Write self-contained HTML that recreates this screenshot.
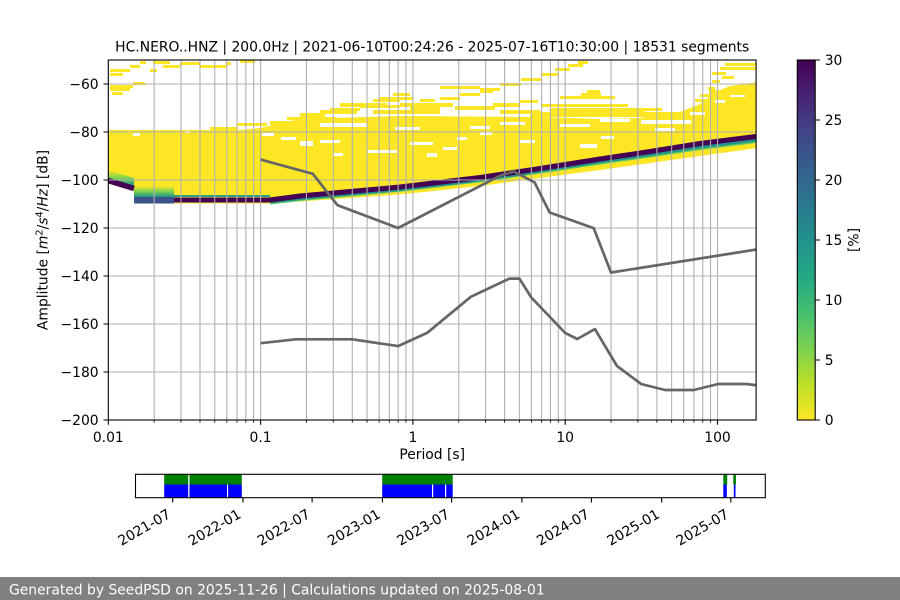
<!DOCTYPE html>
<html><head><meta charset="utf-8"><style>
html,body{margin:0;padding:0;background:#fff;}
svg{display:block;}
text{font-family:"DejaVu Sans","Liberation Sans",sans-serif;font-size:13.89px;fill:#000;}
</style></head><body>
<svg width="900" height="600" viewBox="0 0 900 600" xmlns="http://www.w3.org/2000/svg">
<defs>
<clipPath id="ax"><rect x="108.3" y="60" width="647.8" height="360"/></clipPath>
<linearGradient id="cb" x1="0" y1="1" x2="0" y2="0">
<stop offset="0" stop-color="#fde725"/><stop offset="0.1" stop-color="#bddf26"/><stop offset="0.2" stop-color="#7ad151"/><stop offset="0.3" stop-color="#44bf70"/><stop offset="0.4" stop-color="#22a884"/><stop offset="0.5" stop-color="#21918c"/><stop offset="0.6" stop-color="#2a788e"/><stop offset="0.7" stop-color="#355f8d"/><stop offset="0.8" stop-color="#414487"/><stop offset="0.9" stop-color="#482475"/><stop offset="1" stop-color="#440154"/>
</linearGradient>
<linearGradient id="lg" x1="0" y1="0" x2="0" y2="1">
<stop offset="0" stop-color="#fde725"/><stop offset="0.5" stop-color="#7ad151"/><stop offset="1" stop-color="#21918c"/>
</linearGradient>
</defs>
<rect width="900" height="600" fill="#fff"/>

<!-- heatmap -->
<g clip-path="url(#ax)">
<path fill="#fde725" d="M108,130 L240,130 L260,128 L300,119 L400,116 L540,117 L600,119 L640,118 L680,112 L700,104 L715,92 L730,86 L757,82 L757,148 L700,156 L650,163 L600,170 L540,178 L480,186 L400,194.5 L300,201.5 L270,203.5 L134,203.5 L134,191 L108,183.5 Z"/>
<g fill="#fde725">
<rect x="140" y="61" width="6" height="3"/><rect x="153" y="61" width="17" height="3"/><rect x="180" y="62" width="20" height="3"/><rect x="226" y="62" width="5" height="3"/><rect x="240" y="60" width="15" height="3"/>
<rect x="130" y="65" width="10" height="3"/><rect x="163" y="65" width="17" height="3"/><rect x="200" y="65" width="27" height="3"/>
<rect x="110" y="69" width="20" height="3"/><rect x="150" y="69" width="7" height="3"/><rect x="110" y="73" width="13" height="3"/>
<rect x="133" y="82" width="12" height="3"/><rect x="110" y="85" width="23" height="3"/><rect x="110" y="88" width="20" height="3"/><rect x="112" y="92" width="11" height="3"/>
<rect x="210" y="127" width="28" height="3"/><rect x="237" y="123" width="30" height="3"/><rect x="270" y="121" width="63" height="4"/><rect x="287" y="117" width="50" height="3"/><rect x="340" y="118" width="60" height="3"/><rect x="330" y="108" width="30" height="3"/><rect x="360" y="105" width="40" height="3"/><rect x="373" y="99" width="27" height="3"/>
<rect x="480" y="90" width="13" height="3"/><rect x="460" y="93" width="20" height="3"/><rect x="393" y="93" width="17" height="3"/><rect x="380" y="97" width="33" height="3"/><rect x="440" y="97" width="20" height="3"/>
<rect x="340" y="103" width="47" height="4"/><rect x="400" y="103" width="53" height="4"/><rect x="493" y="103" width="27" height="4"/><rect x="320" y="110" width="37" height="4"/><rect x="373" y="110" width="67" height="4"/><rect x="500" y="110" width="40" height="4"/>
<rect x="300" y="113" width="25" height="4"/><rect x="420" y="99" width="15" height="3"/><rect x="455" y="106" width="40" height="4"/><rect x="520" y="100" width="18" height="3"/><rect x="410" y="107" width="30" height="3"/>
<rect x="440" y="86" width="40" height="3"/><rect x="480" y="88" width="20" height="3"/><rect x="500" y="83" width="21" height="3"/><rect x="521" y="78" width="20" height="3"/><rect x="541" y="73" width="17" height="3"/><rect x="555" y="68" width="15" height="3"/><rect x="568" y="64" width="15" height="3"/><rect x="578" y="61" width="10" height="3"/>
<rect x="587" y="90" width="13" height="3"/><rect x="581" y="93" width="20" height="3"/><rect x="560" y="96" width="55" height="3"/><rect x="541" y="104" width="87" height="3"/><rect x="550" y="108" width="95" height="4"/><rect x="615" y="108" width="47" height="3"/><rect x="530" y="112" width="160" height="5"/>
<rect x="725" y="63" width="33" height="3"/><rect x="720" y="67" width="36" height="3"/><rect x="712" y="72" width="14" height="3"/><rect x="722" y="76" width="12" height="3"/><rect x="712" y="80" width="8" height="3"/><rect x="700" y="94" width="12" height="3"/><rect x="708" y="87" width="7" height="3"/><rect x="709" y="90" width="13" height="4"/><rect x="695" y="99" width="10" height="3"/>
</g>
<g fill="#fff">
<rect x="133" y="133" width="7" height="3"/><rect x="185" y="131" width="5" height="2"/><rect x="262" y="133" width="12" height="3"/><rect x="281" y="137" width="15" height="3"/><rect x="300" y="141" width="13" height="5"/><rect x="320" y="140" width="20" height="3"/><rect x="333" y="153" width="10" height="3"/><rect x="367" y="150" width="30" height="3"/><rect x="410" y="142" width="23" height="3"/><rect x="427" y="153" width="10" height="4"/><rect x="443" y="147" width="14" height="3"/><rect x="457" y="137" width="10" height="3"/><rect x="320" y="123" width="47" height="4"/><rect x="395" y="127" width="25" height="3"/><rect x="470" y="126" width="20" height="3"/><rect x="500" y="122" width="25" height="3"/><rect x="560" y="124" width="30" height="3"/><rect x="580" y="144" width="17" height="4"/><rect x="601" y="136" width="13" height="3"/><rect x="641" y="120" width="50" height="4"/><rect x="655" y="128" width="20" height="3"/><rect x="600" y="119" width="30" height="3"/><rect x="520" y="140" width="15" height="3"/><rect x="480" y="132" width="12" height="3"/><rect x="690" y="112" width="15" height="3"/><rect x="715" y="100" width="10" height="3"/><rect x="730" y="95" width="15" height="2"/>
</g>
<path fill="url(#lg)" d="M108,170 L134,178 L134,186 L108,178 Z"/>
<rect x="134" y="186" width="40" height="11" fill="url(#lg)"/>
<rect x="134" y="197" width="40" height="6.5" fill="#3b528b"/>
<rect x="174" y="195" width="96" height="2" fill="#2a9d8c"/>
<path fill="none" stroke="#440154" stroke-width="5.5" d="M108,180.5 L134,188.5"/>
<path fill="none" stroke="#5ec962" stroke-width="7" d="M270,201 L300,197.5 L400,188.3 L480,178.8 L540,170 L600,161 L650,154 L700,146.5 L760,139"/>
<path fill="none" stroke="#21918c" stroke-width="6" d="M270,200.5 L300,197 L400,188 L480,178.5 L540,169.5 L600,160.3 L650,153 L700,145.5 L760,138"/>
<path fill="none" stroke="#440154" stroke-width="5" d="M174,200 L270,200 L300,196 L400,187 L480,177.5 L540,168.5 L600,159 L650,151.5 L700,143.5 L760,136"/>

<!-- grid -->
<path fill="none" stroke="#b0b0b0" stroke-width="1.1" d="M154.15,60V420 M180.97,60V420 M199.99,60V420 M214.75,60V420 M226.81,60V420 M237.01,60V420 M245.84,60V420 M253.63,60V420 M260.6,60V420 M306.45,60V420 M333.27,60V420 M352.29,60V420 M367.05,60V420 M379.11,60V420 M389.31,60V420 M398.14,60V420 M405.93,60V420 M412.9,60V420 M458.75,60V420 M485.57,60V420 M504.59,60V420 M519.35,60V420 M531.41,60V420 M541.61,60V420 M550.44,60V420 M558.23,60V420 M565.2,60V420 M611.05,60V420 M637.87,60V420 M656.89,60V420 M671.65,60V420 M683.71,60V420 M693.91,60V420 M702.74,60V420 M710.53,60V420 M717.5,60V420 M108.3,84H756.1 M108.3,132H756.1 M108.3,180H756.1 M108.3,228H756.1 M108.3,276H756.1 M108.3,324H756.1 M108.3,372H756.1"/>

<!-- noise models -->
<path fill="none" stroke="#666666" stroke-width="2.7" stroke-linejoin="round" stroke-linecap="butt" d="M260.6,159.6 L312.8,173.8 L337.5,205.2 L398.1,228 L501.2,175.2 L513.8,171.6 L534.6,182.4 L549.6,212.5 L593.7,228.1 L611,272.5 L760,249"/>
<path fill="none" stroke="#666666" stroke-width="2.7" stroke-linejoin="round" stroke-linecap="butt" d="M260.6,343.2 L295.7,339.3 L352.3,339.3 L398.1,346.1 L427.1,332.9 L470.8,296.8 L509.4,278.6 L519.4,278.6 L531.4,297.6 L565.2,333 L577.3,339 L594.9,329.1 L617,366 L641.1,384 L665,390 L693.9,390 L718.2,384 L746.4,384 L795.3,390"/>
</g>

<!-- axes frame and ticks -->
<rect x="108.3" y="60" width="647.8" height="360" fill="none" stroke="#000" stroke-width="1.1"/>
<path fill="none" stroke="#000" stroke-width="1.1" d="M108.3,420v4.8 M260.6,420v4.8 M412.9,420v4.8 M565.2,420v4.8 M717.5,420v4.8 M103.5,84h4.8 M103.5,132h4.8 M103.5,180h4.8 M103.5,228h4.8 M103.5,276h4.8 M103.5,324h4.8 M103.5,372h4.8 M103.5,420h4.8"/>
<path fill="none" stroke="#000" stroke-width="0.8" d="M154.15,420v2.8 M180.97,420v2.8 M199.99,420v2.8 M214.75,420v2.8 M226.81,420v2.8 M237.01,420v2.8 M245.84,420v2.8 M253.63,420v2.8 M306.45,420v2.8 M333.27,420v2.8 M352.29,420v2.8 M367.05,420v2.8 M379.11,420v2.8 M389.31,420v2.8 M398.14,420v2.8 M405.93,420v2.8 M458.75,420v2.8 M485.57,420v2.8 M504.59,420v2.8 M519.35,420v2.8 M531.41,420v2.8 M541.61,420v2.8 M550.44,420v2.8 M558.23,420v2.8 M611.05,420v2.8 M637.87,420v2.8 M656.89,420v2.8 M671.65,420v2.8 M683.71,420v2.8 M693.91,420v2.8 M702.74,420v2.8 M710.53,420v2.8"/>

<g text-anchor="middle">
<text x="108.3" y="441.8">0.01</text><text x="260.6" y="441.8">0.1</text><text x="412.9" y="441.8">1</text><text x="565.2" y="441.8">10</text><text x="717.5" y="441.8">100</text>
</g>
<g text-anchor="end">
<text x="98.6" y="89.05">−60</text><text x="98.6" y="137.05">−80</text><text x="98.6" y="185.05">−100</text><text x="98.6" y="233.05">−120</text><text x="98.6" y="281.05">−140</text><text x="98.6" y="329.05">−160</text><text x="98.6" y="377.05">−180</text><text x="98.6" y="425.05">−200</text>
</g>
<text x="432.2" y="459" text-anchor="middle">Period [s]</text>
<text transform="translate(47.5,240) rotate(-90)" text-anchor="middle">Amplitude [<tspan font-style="italic">m</tspan><tspan font-size="9.7" dy="-5">2</tspan><tspan dy="5">/</tspan><tspan font-style="italic">s</tspan><tspan font-size="9.7" dy="-5">4</tspan><tspan dy="5">/</tspan><tspan font-style="italic">Hz</tspan>] [dB]</text>
<text x="432.2" y="51.7" text-anchor="middle">HC.NERO..HNZ | 200.0Hz | 2021-06-10T00:24:26 - 2025-07-16T10:30:00 | 18531 segments</text>

<!-- colorbar -->
<rect x="797.3" y="60" width="17.9" height="360" fill="url(#cb)" stroke="#000" stroke-width="1.1"/>
<path fill="none" stroke="#000" stroke-width="1.1" d="M815.2,60h4.8 M815.2,120h4.8 M815.2,180h4.8 M815.2,240h4.8 M815.2,300h4.8 M815.2,360h4.8 M815.2,420h4.8"/>
<g>
<text x="824.7" y="65.05">30</text><text x="824.7" y="125.05">25</text><text x="824.7" y="185.05">20</text><text x="824.7" y="245.05">15</text><text x="824.7" y="305.05">10</text><text x="824.7" y="365.05">5</text><text x="824.7" y="425.05">0</text>
</g>
<text transform="translate(858.5,240) rotate(-90)" text-anchor="middle">[%]</text>

<!-- timeline -->
<g>
<rect x="164.2" y="474.3" width="77.6" height="10.2" fill="#008000"/>
<rect x="382.2" y="474.3" width="70.5" height="10.2" fill="#008000"/>
<rect x="723.3" y="474.3" width="3.9" height="10.2" fill="#008000"/>
<rect x="733.3" y="474.3" width="2.7" height="10.2" fill="#008000"/>
<rect x="164.2" y="484.5" width="77.6" height="13.2" fill="#0000ff"/>
<rect x="382.2" y="484.5" width="70.5" height="13.2" fill="#0000ff"/>
<rect x="723.3" y="484.5" width="3.5" height="13.2" fill="#0000ff"/>
<rect x="733.8" y="484.5" width="1.7" height="13.2" fill="#0000ff"/>
<rect x="188.2" y="474.3" width="1.3" height="23.4" fill="#fff"/>
<rect x="227" y="484.5" width="1.1" height="13.2" fill="#fff"/>
<rect x="432" y="484.5" width="1.2" height="13.2" fill="#fff"/>
<rect x="445" y="484.5" width="1.2" height="13.2" fill="#fff"/>
</g>
<rect x="135.5" y="474.3" width="629.8" height="23.4" fill="none" stroke="#000" stroke-width="1.1"/>
<path fill="none" stroke="#000" stroke-width="1.1" d="M172.7,497.7v4.8 M243,497.7v4.8 M312.1,497.7v4.8 M382.4,497.7v4.8 M451.6,497.7v4.8 M521.9,497.7v4.8 M591.4,497.7v4.8 M661.7,497.7v4.8 M730.8,497.7v4.8"/>
<g text-anchor="end">
<text transform="translate(171.7,517) rotate(-30)">2021-07</text>
<text transform="translate(242,517) rotate(-30)">2022-01</text>
<text transform="translate(311.1,517) rotate(-30)">2022-07</text>
<text transform="translate(381.4,517) rotate(-30)">2023-01</text>
<text transform="translate(450.6,517) rotate(-30)">2023-07</text>
<text transform="translate(520.9,517) rotate(-30)">2024-01</text>
<text transform="translate(590.4,517) rotate(-30)">2024-07</text>
<text transform="translate(660.7,517) rotate(-30)">2025-01</text>
<text transform="translate(729.8,517) rotate(-30)">2025-07</text>
</g>

<!-- footer -->
<rect x="0" y="577" width="900" height="23" fill="#808080"/>
<text x="9" y="594.5" fill="#ffffff" style="fill:#ffffff">Generated by SeedPSD on 2025-11-26 | Calculations updated on 2025-08-01</text>
</svg>
</body></html>
